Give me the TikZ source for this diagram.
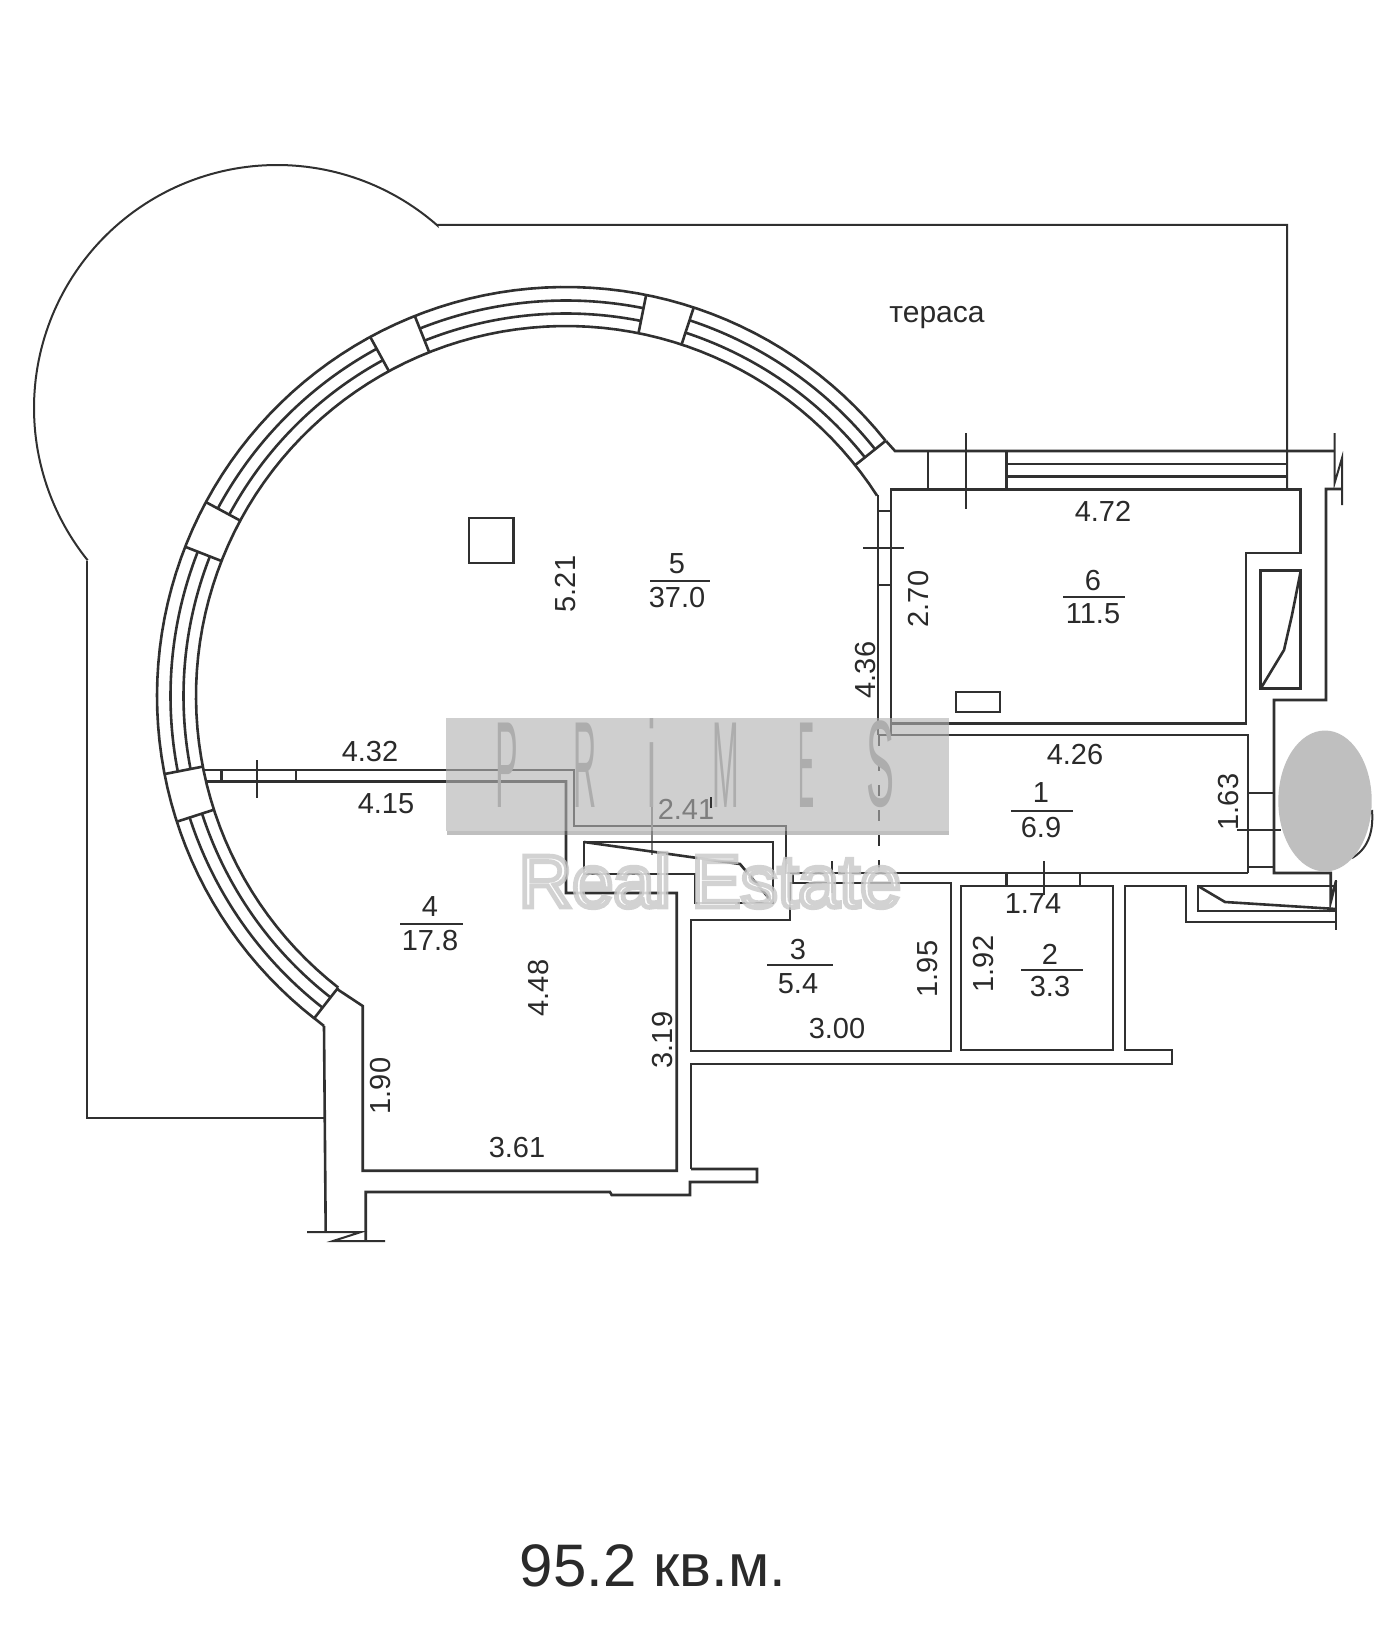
\documentclass[tikz,border=0pt]{standalone}
\usepackage{fontspec}
\usepackage{graphicx}
\setmainfont{Liberation Sans}
\definecolor{ink}{HTML}{303030}
\definecolor{txt}{HTML}{2A2A2A}
\newcommand{\ringarc}[3]{\draw[wall] plot[domain=#2:#3,samples=90] ({566+#1*cos(\x)},{696+#1*sin(\x)});}
\newcommand{\ringray}[1]{\draw[wall] ({566+370*cos(#1)},{696+370*sin(#1)}) -- ({566+409*cos(#1)},{696+409*sin(#1)});}
\tikzset{
  wall/.style={draw=ink,line width=1.3pt,line join=miter},
  thinwall/.style={draw=ink,line width=1.0pt},
  ticks/.style={draw=ink,line width=1.0pt},
  lab/.style={text=txt,inner sep=0pt,font=\fontsize{14.5}{16}\selectfont},
  vlab/.style={lab,rotate=90},
  frac/.style={draw=ink,line width=0.9pt},
  wmletter/.style={text=black!32,inner sep=0pt,anchor=south,font=\fontsize{20}{22}\selectfont}
}
\begin{document}
\begin{tikzpicture}[x=0.5pt,y=-0.5pt]
\useasboundingbox (0,0) rectangle (1400,1626);
\fill[white] (0,0) rectangle (1400,1626);

% terrace outline
\draw[thinwall,line join=miter] plot[domain=-218.8:-48.8,samples=120] ({277+243*cos(\x)},{408+243*sin(\x)})
  -- (437,225) -- (1287,225) -- (1287,489);
\draw[thinwall] (87,561) -- (87,1118) -- (325,1118);

% curved window wall
\ringarc{409}{-232}{-38.6}
\ringarc{370}{-232}{-32.8}
\foreach \a/\b in {-232/-197.9,-191/-158.6,-151.7/-118.6,-111.7/-78.7,-71.8/-38.6}{
  \ringarc{395.5}{\a}{\b}
  \ringarc{382.5}{\a}{\b}
}
\foreach \a in {-232,-197.9,-191,-158.6,-151.7,-118.6,-111.7,-78.7,-71.8,-38.6}{\ringray{\a}}

% top wall and window of room 6
\draw[wall] (886,441) -- (895,451) -- (1334,451);
\draw[wall] (1006.7,464) -- (1287,464) (1006.7,476.7) -- (1287,476.7);
\draw[wall] (928,451) -- (928,489) (1006.7,451) -- (1006.7,489);
\draw[ticks] (966,433) -- (966,509);
\draw[ticks] (1334.6,433) -- (1334.6,483) -- (1342,458) -- (1342,505);

% room 6
\draw[wall] (891,723.6) -- (891,489.5) -- (1300.5,489.5) -- (1300.5,553) -- (1246,553) -- (1246,723.6) -- cycle;
\draw[wall] (878,495) -- (878,735);
\draw[wall] (891,735) -- (1248,735) -- (1248,873);
\draw[wall] (878,511) -- (891,511) (878,585) -- (891,585);
\draw[wall] (891,723.6) -- (891,735) -- (878,735);
\draw[ticks] (863,548) -- (904,548);
\draw[wall] (469,518) rectangle (513.4,563);
\draw[wall] (956,692) rectangle (1000,712);
\draw[wall] (1260.7,570.7) rectangle (1300.7,688.7);
\draw[wall] (1300.7,571) -- (1292,615) -- (1284,650) -- (1261,688);

% right outer wall
\draw[wall] (1342,489) -- (1326,489) -- (1326,700) -- (1274,700) -- (1274,873) -- (1330.7,873) -- (1330.7,902) -- (1336,881);
\draw[thinwall] (1248,793) -- (1274,793) (1248,867) -- (1274,867);
\draw[ticks] (1237,830) -- (1281,830);
\draw[thinwall] (1352,858) .. controls (1366,850) and (1374,835) .. (1372,810);

% long upper wall of room 5/4
\draw[wall] (203.6,770) -- (574,770) -- (574,826) -- (786,826) -- (786,873) -- (1248,873);
\draw[wall] (207,781.5) -- (566,781.5) -- (566,893) -- (676.7,893) -- (676.7,1170.7) -- (362.7,1170.7) -- (362.7,1006) -- (337,989);
\draw[wall] (221.4,770) -- (221.4,781.5) (296,770) -- (296,781.5);
\draw[ticks] (257,760) -- (257,798);
\draw[ticks] (832,861) -- (832,893);
\draw[ticks] (793,873) -- (793,883);
\draw[ticks,dash pattern=on 5.5pt off 7pt,draw=ink] (878.6,735) -- (878.6,873);
\draw[ticks,draw=black!50] (652,800) -- (652,855);

% inner shaft
\draw[wall] (584,874) -- (584,842) -- (773,842) -- (773,903) -- (695,903) -- (695,874) -- cycle;
\draw[wall] (584,842) -- (740,864) -- (773,903);

% room 3
\draw[wall] (691,920) -- (790,920) -- (790,883) -- (951,883) -- (951,1051) -- (691,1051) -- cycle;
% room 2
\draw[wall] (961,886) rectangle (1113,1050);
\draw[wall] (1006.7,873) -- (1006.7,886) (1080,873) -- (1080,886);
\draw[ticks] (1044,861) -- (1044,895);

% south-east outer walls
\draw[wall] (691,1169) -- (691,1064) -- (1172,1064) -- (1172,1050) -- (1125,1050) -- (1125,886) -- (1186,886) -- (1186,922) -- (1336,922);
\draw[ticks] (1336,880) -- (1336,930);
\draw[wall] (1336,886) -- (1198,886) -- (1198,911) -- (1336,911);
\draw[wall] (1198,886) -- (1225,902) -- (1336,909);

% south-west walls
\draw[wall] (691,1169) -- (757,1169) -- (757,1182) -- (690,1182) -- (690,1195) -- (611.7,1195) -- (610,1192) -- (365.7,1192) -- (365.7,1241);
\draw[wall] (324,1026) -- (325.7,1232);
\draw[wall] (314,1018) -- (324,1026);
\draw[ticks] (307,1232) -- (361,1232) -- (333,1241) -- (385,1241);

% labels
\node[lab,font=\fontsize{15}{17}\selectfont] (terrace) at (937,318) {тераса};
\node[lab] (d472) at (1103,511) {4.72};
\node[lab] (a5n) at (677,564) {5};
\draw[frac] (650,581) -- (710,581);
\node[lab] (a5v) at (677,598) {37.0};
\node[vlab] (d521) at (566,584) {5.21};
\node[vlab] (d270) at (919,599) {2.70};
\node[lab] (a6n) at (1093,581) {6};
\draw[frac] (1063,597) -- (1125,597);
\node[lab] (a6v) at (1093,614) {11.5};
\node[vlab] (d436) at (866,670) {4.36};
\node[lab] (d426) at (1075,755) {4.26};
\node[lab] (d432) at (370,752) {4.32};
\node[lab] (d415) at (386,804) {4.15};
\node[lab] (d241) at (686,809) {2.41};
\node[lab] (a1n) at (1041,793) {1};
\draw[frac] (1011,811) -- (1073,811);
\node[lab] (a1v) at (1041,828) {6.9};
\node[vlab] (d163) at (1228,802) {1.63};
\node[lab] (d174) at (1033,904) {1.74};
\node[lab] (a4n) at (430,907) {4};
\draw[frac] (400,924) -- (463,924);
\node[lab] (a4v) at (430,941) {17.8};
\node[vlab] (d448) at (539,988) {4.48};
\node[lab] (a3n) at (798,950) {3};
\draw[frac] (767,965) -- (833,965);
\node[lab] (a3v) at (798,984) {5.4};
\node[vlab] (d195) at (928,969) {1.95};
\node[vlab] (d192) at (984,964) {1.92};
\node[lab] (a2n) at (1050,954) {2};
\draw[frac] (1021,970) -- (1083,970);
\node[lab] (a2v) at (1050,987) {3.3};
\node[lab] (d300) at (837,1029) {3.00};
\node[vlab] (d319) at (663,1040) {3.19};
\node[vlab] (d190) at (381,1086) {1.90};
\node[lab] (d361) at (517,1148) {3.61};
\node[lab,font=\fontsize{30}{33}\selectfont] (total) at (653,1566) {95.2 кв.м.};

% watermark
\fill[black!50,opacity=.5] (447,831) rectangle (949,835);
\fill[black!30,opacity=.62] (445.5,718) rectangle (949,831);
\foreach \nm/\px/\lt/\sx in {wp/507/P/0.85,wr/585/R/0.8,wi/652/i/1.0,wm/725.5/M/0.8,we/806/E/0.6,ws/880/S/1.05}{
  \node[wmletter] (\nm) at (\px,808) {\scalebox{\sx}[3.07]{\lt}};
}
\draw[ticks,draw=black!80,line width=1.4pt] (711,797) -- (711,808);
\node[inner sep=0pt,anchor=base,text=white,opacity=.8,font=\fontsize{37}{40}\selectfont] (realestate) at (710,907)
  {\special{pdf:code 2 Tr 2.4 w 0.78 G}Real Estate\special{pdf:code 0 Tr}};

% masked spot
\fill[black!25] (1325,801) ellipse [x radius=46.7,y radius=70.5];
\end{tikzpicture}
\end{document}
